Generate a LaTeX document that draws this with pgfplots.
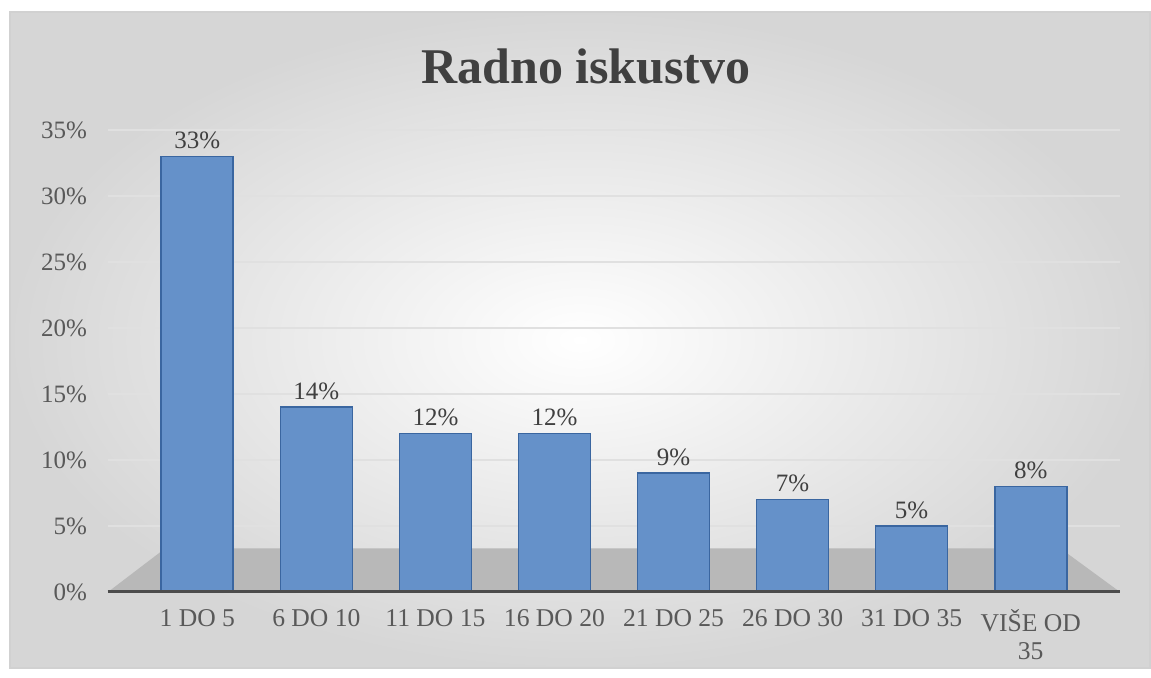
\documentclass[border=0pt]{standalone}
\usepackage{pgfplots}
\pgfplotsset{compat=1.18}
\usepackage{fontspec}
\setmainfont{Liberation Serif}
\definecolor{barfill}{HTML}{6591C9}
\definecolor{baredge}{HTML}{3A66A0}
\definecolor{txt}{HTML}{595959}
\definecolor{ttl}{HTML}{404040}
\begin{document}
\begin{tikzpicture}
\path[use as bounding box] (0,0) rectangle (575.5pt,339pt);
\shade[inner color=white, outer color=black!16] (5pt,5pt) rectangle (575pt,333pt);
\draw[black!18, line width=0.8pt] (5pt,5pt) rectangle (575pt,333pt);
\node[font=\fontsize{25}{28}\selectfont\bfseries, text=ttl] at (293pt,306pt) {Radno iskustvo};
\begin{axis}[
  at={(54pt,43pt)}, anchor=south west,
  scale only axis, width=506pt, height=231pt,
  ymin=0, ymax=35, xmin=-0.75, xmax=7.75,
  ytick={0,5,...,35},
  yticklabel={\pgfmathprintnumber{\tick}\%},
  xtick=data,
  xticklabels={1 DO 5, 6 DO 10, 11 DO 15, 16 DO 20, 21 DO 25, 26 DO 30, 31 DO 35, {VIŠE OD\\35}},
  xticklabel style={align=center, font=\fontsize{12.8}{14}\selectfont, text=txt},
  yticklabel style={font=\fontsize{12.5}{14}\selectfont, text=txt},
  /pgf/number format/assume math mode=true,
  ymajorgrids, grid style={black!12, line width=0.8pt},
  axis x line*=bottom, axis y line*=left,
  y axis line style={draw=none},
  x axis line style={black!70, line width=1.5pt, -},
  major tick length=0pt,
  xticklabel shift=5pt, yticklabel shift=7pt,
  ybar, bar width=36pt,
  nodes near coords={\pgfmathprintnumber{\pgfplotspointmeta}\%},
  every node near coord/.append style={font=\fontsize{12.5}{14}\selectfont, text=ttl},
]
\fill[black!28] (axis cs:-0.75,0) -- (axis cs:-0.27,3.3) -- (axis cs:7.25,3.3) -- (axis cs:7.75,0) -- cycle;
\addplot[fill=barfill, draw=baredge, line width=0.8pt] coordinates {
(0,33) (1,14) (2,12) (3,12) (4,9) (5,7) (6,5) (7,8)};
\draw[black!70, line width=1.5pt] (axis cs:-0.75,0) -- (axis cs:7.75,0);
\end{axis}
\end{tikzpicture}
\end{document}
